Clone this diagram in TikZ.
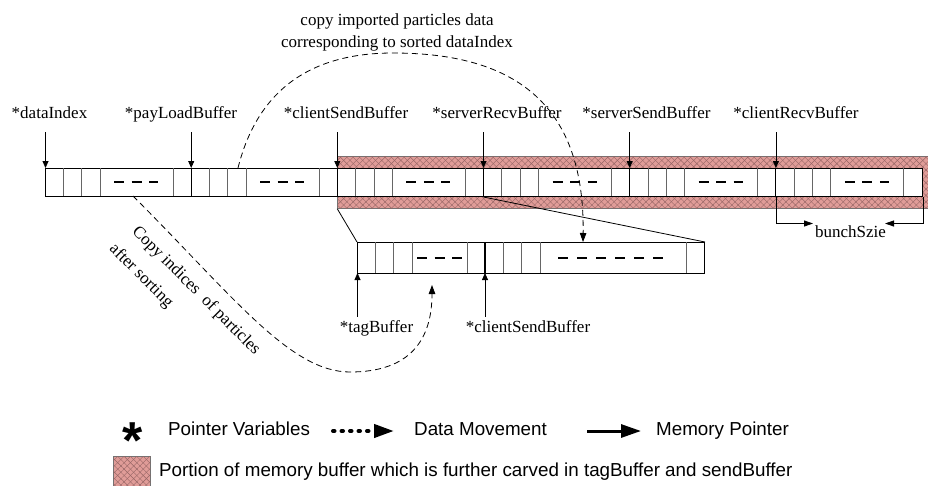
\documentclass[tikz,border=0pt]{standalone}
\usepackage{fontspec}
\setmainfont{Liberation Serif}
\newfontfamily\legendfont{Liberation Sans}
\usetikzlibrary{arrows.meta,patterns.meta}
\definecolor{hatchpink}{RGB}{224,156,152}
\definecolor{hatchline}{RGB}{150,100,100}

\begin{document}
\begin{tikzpicture}[x=1pt, y=-1pt,
    lbl/.style={font=\fontsize{17}{20}\selectfont, inner sep=1pt, text height=11pt, text depth=4pt},
    note/.style={font=\fontsize{17}{22}\selectfont, inner sep=0pt},
    leg/.style={font=\legendfont\fontsize{18.8}{20}\selectfont, anchor=west, inner sep=0pt, text height=13pt, text depth=4pt},
    ptr/.style={-{Triangle[length=7pt,width=6pt]}, line width=0.8pt},
    move/.style={dash pattern=on 6pt off 4pt, -{Triangle[length=9pt,width=6.5pt]}, line width=0.8pt},
    cell/.style={draw=black!60, line width=0.8pt},
    gap/.style={line width=1.4pt, dash pattern=on 10pt off 7.5pt},
    buf/.style={draw, fill=white, line width=1pt, inner sep=0pt, anchor=north west},
    hatched/.style={draw=black!55, line width=0.8pt, fill=hatchpink,
        postaction={pattern={Lines[angle=45,distance=4.5pt,line width=0.4pt]}, pattern color=hatchline},
        postaction={pattern={Lines[angle=-45,distance=4.5pt,line width=0.4pt]}, pattern color=hatchline}}]
    \useasboundingbox (0,0) rectangle (928,485);

    % carved part of the buffer
    \node[hatched, inner sep=0pt, anchor=north west, minimum width=600pt, minimum height=52pt] (carved) at (337.3,156) {};

    % main memory buffer
    \node[buf, minimum width=877pt, minimum height=28pt] (mainbuf) at (45,168) {};
    \foreach \s in {0,...,5}{
        \pgfmathsetmacro{\xo}{45+146.17*\s}
        \draw[cell] (\xo+18.3,168) -- ++(0,28) (\xo+36.6,168) -- ++(0,28)
            (\xo+55,168) -- ++(0,28) (\xo+128,168) -- ++(0,28);
        \draw[gap] (\xo+69,182) -- ++(44,0);
    }
    \coordinate (pDI) at (45.5,168);
    \coordinate (pPL) at (191.2,168);
    \coordinate (pCS) at (337.3,168);
    \coordinate (pSR) at (483.5,168);
    \coordinate (pSS) at (629.7,168);
    \coordinate (pCR) at (775.9,168);
    \foreach \p in {pPL,pCS,pSR,pSS,pCR}
        \draw[line width=1.1pt] (\p) -- (\p |- mainbuf.south);

    % pointer names
    \node[lbl, anchor=base] (dataIndex) at (49.5,118.5) {*dataIndex};
    \node[lbl, anchor=base] (payLoad) at (181,118.5) {*payLoadBuffer};
    \node[lbl, anchor=base] (clientSend) at (346,118.5) {*clientSendBuffer};
    \node[lbl, anchor=base] (serverRecv) at (497,118.5) {*serverRecvBuffer};
    \node[lbl, anchor=base] (serverSend) at (646.5,118.5) {*serverSendBuffer};
    \node[lbl, anchor=base] (clientRecv) at (796,118.5) {*clientRecvBuffer};
    \draw[ptr, shorten <=8.5pt] (dataIndex.south -| pDI) -- (pDI);
    \draw[ptr, shorten <=8.5pt] (payLoad.south -| pPL) -- (pPL);
    \draw[ptr, shorten <=8.5pt] (clientSend.south -| pCS) -- (pCS);
    \draw[ptr, shorten <=8.5pt] (serverRecv.south -| pSR) -- (pSR);
    \draw[ptr, shorten <=8.5pt] (serverSend.south -| pSS) -- (pSS);
    \draw[ptr, shorten <=8.5pt] (clientRecv.south -| pCR) -- (pCR);

    % bunch size
    \node[lbl] (bunch) at (850.5,234) {bunchSzie};
    \coordinate (bunchL) at (813,223.5);
    \coordinate (bunchR) at (885,223.5);
    \draw[-{Triangle[length=9pt,width=6pt]}, line width=0.8pt] (pCR |- mainbuf.south) |- (bunchL);
    \draw[-{Triangle[length=9pt,width=6pt]}, line width=0.8pt] (mainbuf.south east) |- (bunchR);

    % tagBuffer + sendBuffer
    \node[buf, minimum width=347pt, minimum height=31pt] (subbuf) at (357,242) {};
    \foreach \x in {375.3,393.6,412,467,503.3,521.6,540,686}
        \draw[cell] (\x,242) -- ++(0,31);
    \coordinate (pTB) at (357.5,273);
    \coordinate (pCS2) at (485,273);
    \draw[line width=1.1pt] (pCS2) -- (pCS2 |- subbuf.north);
    \draw[gap] (417,258) -- ++(45,0);
    \draw[gap, dash pattern=on 10pt off 9pt] (558,258) -- ++(105,0);
    \draw[line width=0.8pt] (carved.south west) -- (subbuf.north west);
    \draw[line width=0.8pt] (pSR |- mainbuf.south) -- (subbuf.north east);

    \node[lbl, anchor=base] (tagBuffer) at (376.5,332) {*tagBuffer};
    \node[lbl, anchor=base] (clientSend2) at (528,332) {*clientSendBuffer};
    \draw[ptr, shorten <=3pt] (tagBuffer.north -| pTB) -- (pTB);
    \draw[ptr, shorten <=3pt] (clientSend2.north -| pCS2) -- (pCS2);

    % data movements
    \coordinate (cpStart) at (238,168);
    \coordinate (cpEnd) at (583,242);
    \draw[move] (cpStart) .. controls (255,100) and (300,53) .. (393,53)
        .. controls (510,53) and (585,100) .. (cpEnd);
    \node[note, anchor=north, align=center] (copyNote) at (397,13.5)
        {copy imported particles data\\corresponding to sorted dataIndex};

    \coordinate (ciStart) at (133,196);
    \coordinate (ciEnd) at (432,285);
    \draw[move] (ciStart) .. controls (233,296) and (290,372) .. (350,372)
        .. controls (410,372) and (432,340) .. (ciEnd);
    \node[note, rotate=-45] (copyIdx) at (196,291) {Copy indices\ \ of particles};
    \node[note, rotate=-45] (afterSort) at (141,276) {after sorting};

    % legend
    \node[font=\legendfont\bfseries\fontsize{52}{52}\selectfont, inner sep=0pt] (star) at (133,441) {*};
    \node[leg] (legPtr) at (168,431) {Pointer Variables};
    \coordinate (dmA) at (333,431);
    \coordinate (dmB) at (394,431);
    \draw[line width=4pt, line cap=round, dash pattern=on 1.5pt off 7pt,
        -{Triangle[length=20pt,width=13pt]}] (dmA) -- (dmB);
    \node[leg] (legMove) at (414,431) {Data Movement};
    \coordinate (mpA) at (587,431);
    \coordinate (mpB) at (641,431);
    \draw[line width=3pt, -{Triangle[length=20pt,width=13pt]}] (mpA) -- (mpB);
    \node[leg] (legMem) at (656,431) {Memory Pointer};
    \node[hatched, inner sep=0pt, anchor=north west, minimum width=37pt, minimum height=34pt] (legCarved) at (113,456) {};
    \node[leg] (legPortion) at (159,472) {Portion of memory buffer which is further carved in tagBuffer and sendBuffer};
\end{tikzpicture}
\end{document}
